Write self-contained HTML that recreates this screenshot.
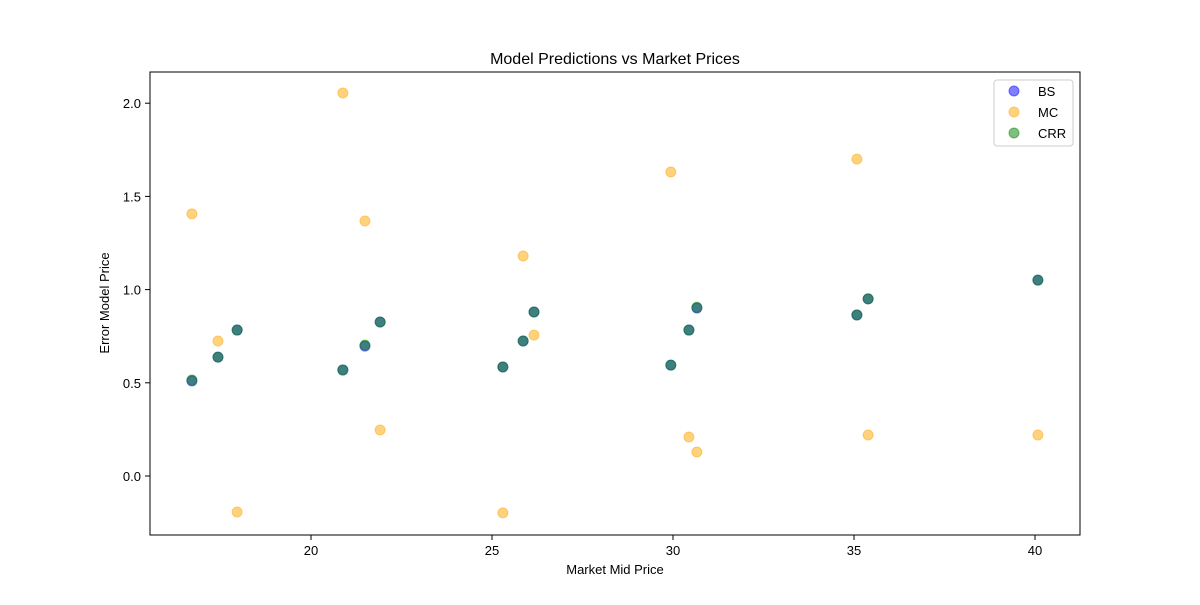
<!DOCTYPE html>
<html><head><meta charset="utf-8"><style>
body{margin:0;background:#fff;font-family:"Liberation Sans","DejaVu Sans",sans-serif;}
svg text{font-family:"Liberation Sans","DejaVu Sans",sans-serif;}
</style></head><body>
<svg id="chart" width="1200" height="600" xmlns="http://www.w3.org/2000/svg">
<rect width="1200" height="600" fill="#fff"/>
<text x="615" y="64" text-anchor="middle" font-size="16">Model Predictions vs Market Prices</text>
<g id="ticks"></g>
<g id="marks"></g>
<rect x="150" y="72" width="930" height="463" fill="none" stroke="#000" stroke-width="1"/>
<text x="615" y="574" text-anchor="middle" font-size="13">Market Mid Price</text>
<text transform="translate(109,303) rotate(-90)" text-anchor="middle" font-size="13">Error Model Price</text>
<g>
<rect x="994" y="80" width="79" height="66" fill="#fff" stroke="#ccc" rx="3"/>
<g><circle cx="1014" cy="91" r="5" fill="blue" fill-opacity="0.5" stroke="blue" stroke-opacity="0.5"/><text x="1038" y="96" font-size="13">BS</text></g>
<g><circle cx="1014" cy="112" r="5" fill="orange" fill-opacity="0.5" stroke="orange" stroke-opacity="0.5"/><text x="1038" y="117" font-size="13">MC</text></g>
<g><circle cx="1014" cy="133" r="5" fill="green" fill-opacity="0.5" stroke="green" stroke-opacity="0.5"/><text x="1038" y="138" font-size="13">CRR</text></g>
</g>
</svg>
<script>
const marketPrices=[16.71,17.43,17.96,20.88,21.49,21.91,25.30,25.86,26.16,29.94,30.44,30.66,35.08,35.39,40.08];
const bsErrors=[0.510,0.638,0.783,0.569,0.697,0.826,0.585,0.724,0.880,0.595,0.783,0.901,0.864,0.950,1.051];
const mcErrors=[1.406,0.724,-0.193,2.055,1.368,0.247,-0.198,1.180,0.756,1.631,0.209,0.129,1.700,0.220,0.220];
const crrErrors=[0.515,0.638,0.783,0.569,0.702,0.826,0.585,0.724,0.880,0.595,0.783,0.905,0.864,0.950,1.051];
const xTicks=[20,25,30,35,40];
const yTicks=[0.0,0.5,1.0,1.5,2.0];
const NS="http://www.w3.org/2000/svg";
function xs(v){return 311+(v-20)*36.2;}
function ys(v){return 476-v*186.4;}
const tg=document.getElementById('ticks');
function mk(tag,attrs,parent){const e=document.createElementNS(NS,tag);for(const k in attrs)e.setAttribute(k,attrs[k]);parent.appendChild(e);return e;}
xTicks.forEach(t=>{
  const x=xs(t);
  const l=mk('line',{x1:x,x2:x,y1:535,y2:540,stroke:'#000'},tg);
  
  
  const tx=mk('text',{x:x,y:555,'text-anchor':'middle','font-size':13},tg);tx.textContent=t;
  
  
});
yTicks.forEach(t=>{
  const y=ys(t);
  const l=mk('line',{x1:145,x2:150,y1:y,y2:y,stroke:'#000'},tg);
  
  
  const tx=mk('text',{x:141,y:y+5,'text-anchor':'end','font-size':13},tg);tx.textContent=t.toFixed(1);
  
  
});
const mg=document.getElementById('marks');
[[bsErrors,'blue','bs'],[mcErrors,'orange','mc'],[crrErrors,'green','crr']].forEach(([arr,c,n])=>{
  arr.forEach((v,i)=>{
    const p=mk('circle',{cx:xs(marketPrices[i]),cy:ys(v),r:5,fill:c,'fill-opacity':0.5,stroke:c,'stroke-opacity':0.5},mg);
    
    
  });
});
</script>
</body></html>
